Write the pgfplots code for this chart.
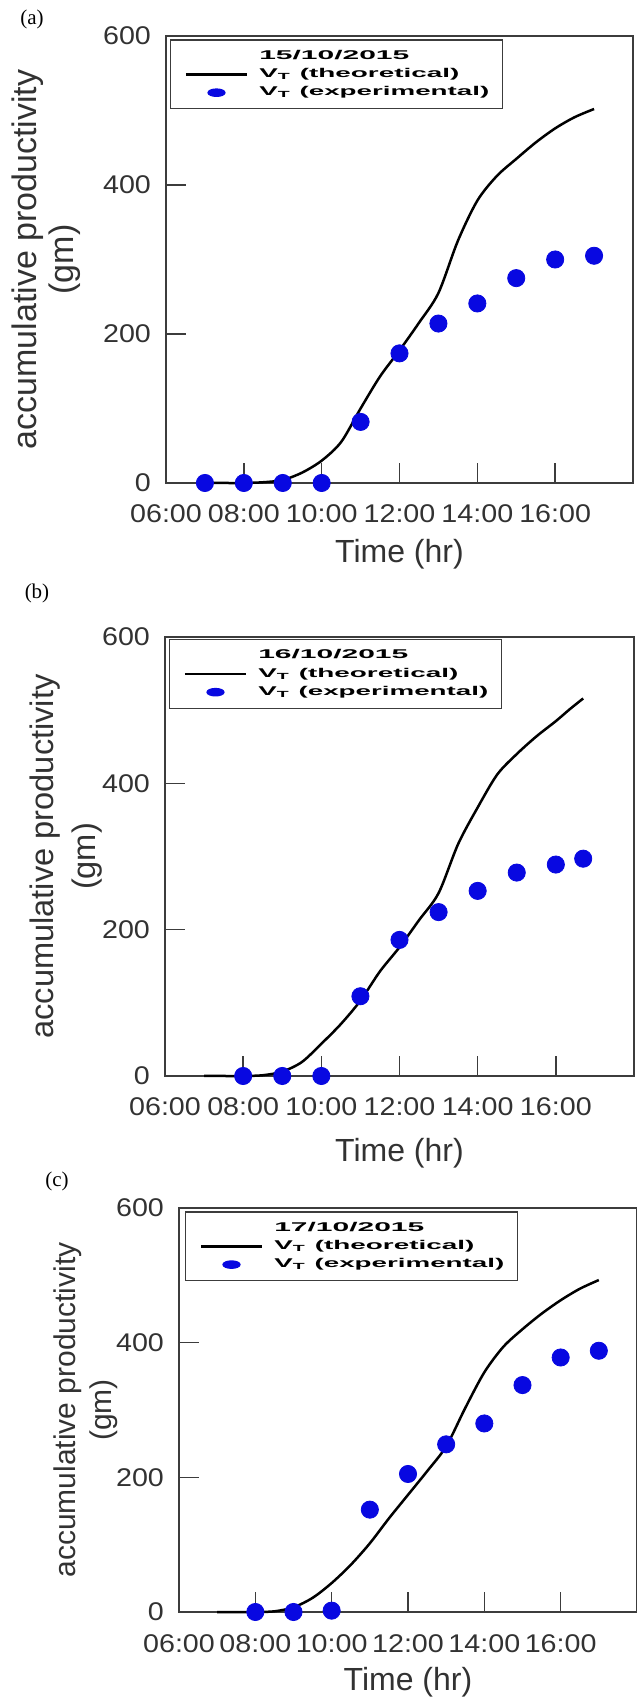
\documentclass[border=0pt]{standalone}
\usepackage{fontspec}
\setmainfont{Liberation Sans}
\newfontfamily\tickfont[FakeStretch=1.12]{Liberation Sans}
\newfontfamily\serif{Liberation Serif}
\usepackage{graphicx}
\usepackage{pgfplots}
\pgfplotsset{compat=1.18}

\definecolor{mblue}{RGB}{8,8,225}
\definecolor{framec}{RGB}{60,60,60}
\definecolor{txt}{RGB}{50,50,50}

% wide, flat legend lettering as in the original figure
\newcommand{\legtxt}[1]{\makebox[113pt][l]{\resizebox{#1pt}{4.6pt}{\bfseries\fontsize{6.3}{7}\selectfont\legbody}}}
\newcommand{\legline}[2]{\def\legbody{#2}\legtxt{#1}}

\pgfplotsset{
  panel/.style={
    scale only axis, anchor=south west, clip=false,
    xmin=6, xmax=18, ymin=0, ymax=600,
    xtick={6,8,10,12,14,16},
    xticklabels={06:00,08:00,10:00,12:00,14:00,16:00},
    ytick={0,200,400,600},
    tick align=inside, tick pos=left,
    major tick length=10pt,
    every tick/.style={framec, line width=0.8pt},
    axis line style={framec, line width=1pt},
    tick label style={font=\tickfont\fontsize{12.8}{12.8}\selectfont, text=txt},
    /pgf/number format/assume math mode=true,
    xticklabel style={anchor=base, yshift=-20pt},
    yticklabel style={xshift=-4pt},
    xlabel={Time (hr)},
    ylabel={accumulative productivity\\(gm)},
    legend cell align=left,
    legend style={at={(axis description cs:0,1)}, anchor=north west,
      draw=framec, line width=0.7pt, inner xsep=7pt, inner ysep=3.5pt,
      font=\bfseries\fontsize{6.3}{7}\selectfont,
      nodes={inner sep=1.5pt, text depth=0.15em},
      column sep=4pt, row sep=0pt},
  },
  theo/.style={black, line width=1.25pt, smooth, tension=0.5,
    legend image code/.code={\draw[black, line width=1.3pt] (0pt,0pt) -- (30.5pt,0pt);}},
  expt/.style={only marks, mark=*, mark size=4.3pt, color=mblue,
    legend image code/.code={\fill[mblue] (15.25pt,0pt) ellipse [x radius=4.2pt, y radius=1.8pt];}},
}

\begin{document}
\begin{tikzpicture}
\useasboundingbox (0,0) rectangle (318.5pt,848.5pt);

\node[font=\serif\fontsize{10.5}{12}\selectfont] at (16pt,839pt) {(a)};
\node[font=\serif\fontsize{10.5}{12}\selectfont] at (18.5pt,552pt) {(b)};
\node[font=\serif\fontsize{10.5}{12}\selectfont] at (28.5pt,258pt) {(c)};

% (a) 15/10/2015
\begin{axis}[panel, at={(83pt,607pt)}, width=233.5pt, height=223.5pt,
  legend style={xshift=2pt, yshift=-1.75pt},
  xlabel style={font=\fontsize{16}{16}\selectfont, text=txt,
    at={(axis description cs:0.5,0)}, anchor=base, yshift=-40pt},
  ylabel style={font=\fontsize{17}{18.5}\selectfont, text=txt, align=center,
    at={(axis description cs:-0.2570,0.5)}, anchor=center}]
\addlegendimage{empty legend}
\addlegendentry{\legline{75}{15/10/2015}}
\addplot[theo] coordinates {
  (7,0) (7.5,0) (8,0) (8.5,1) (9,4) (9.5,14) (10,30) (10.5,55) (11,100)
  (11.5,143) (12,178) (12.5,215) (13,255) (13.5,325) (14,379) (14.5,412)
  (15,435) (15.5,457) (16,476) (16.5,491) (17,502)
};
\addlegendentry{\legline{100}{V\textsubscript{T} (theoretical)}}
\addplot[expt] coordinates {
  (7,0) (8,0) (9,0) (10,0) (11,82) (12,174) (13,214) (14,241) (15,275) (16,300) (17,305)
};
\addlegendentry{\legline{115}{V\textsubscript{T} (experimental)}}
\end{axis}

% (b) 16/10/2015
\begin{axis}[panel, at={(82.5pt,310.5pt)}, width=234.5pt, height=219.5pt,
  legend style={xshift=2pt, yshift=-1pt},
  xlabel style={font=\fontsize{16}{16}\selectfont, text=txt,
    at={(axis description cs:0.5,0)}, anchor=base, yshift=-43pt},
  ylabel style={font=\fontsize{16.3}{21}\selectfont, text=txt, align=center,
    at={(axis description cs:-0.2111,0.5)}, anchor=center}]
\addlegendimage{empty legend}
\addlegendentry{\legline{75}{16/10/2015}}
\addplot[theo] coordinates {
  (7,0) (7.5,0) (8,0) (8.5,1) (9,6) (9.5,19) (10,44) (10.5,71) (11,103)
  (11.5,143) (12,176) (12.5,213) (13,250) (13.5,317) (14,367) (14.5,412)
  (15,440) (15.5,464) (16,485) (16.35,501) (16.7,516)
};
\addlegendentry{\legline{100}{V\textsubscript{T} (theoretical)}}
\addplot[expt] coordinates {
  (8,0) (9,0) (10,0) (11,109) (12,186) (13,224) (14,253) (15,278) (16,289) (16.7,297)
};
\addlegendentry{\legline{115}{V\textsubscript{T} (experimental)}}
\end{axis}

% (c) 17/10/2015
\begin{axis}[panel, at={(89.5pt,42.5pt)}, width=229pt, height=202pt,
  legend style={xshift=3pt, yshift=-1.7pt},
  xlabel style={font=\fontsize{16}{16}\selectfont, text=txt,
    at={(axis description cs:0.5,0)}, anchor=base, yshift=-39pt},
  ylabel style={font=\fontsize{15}{18}\selectfont, text=txt, align=center,
    at={(axis description cs:-0.2031,0.5)}, anchor=center}]
\addlegendimage{empty legend}
\addlegendentry{\legline{75}{17/10/2015}}
\addplot[theo] coordinates {
  (7,0) (7.5,0) (8,0) (8.5,1) (9,7) (9.5,21) (10,43) (10.5,70) (11,102)
  (11.5,139) (12,174) (12.5,209) (13,246) (13.5,303) (14,356) (14.5,394)
  (15,420) (15.5,443) (16,463) (16.5,480) (17,493)
};
\addlegendentry{\legline{100}{V\textsubscript{T} (theoretical)}}
\addplot[expt] coordinates {
  (8,0) (9,0) (10,2) (11,152) (12,205) (13,249) (14,280) (15,337) (16,378) (17,388)
};
\addlegendentry{\legline{115}{V\textsubscript{T} (experimental)}}
\end{axis}
\end{tikzpicture}
\end{document}
